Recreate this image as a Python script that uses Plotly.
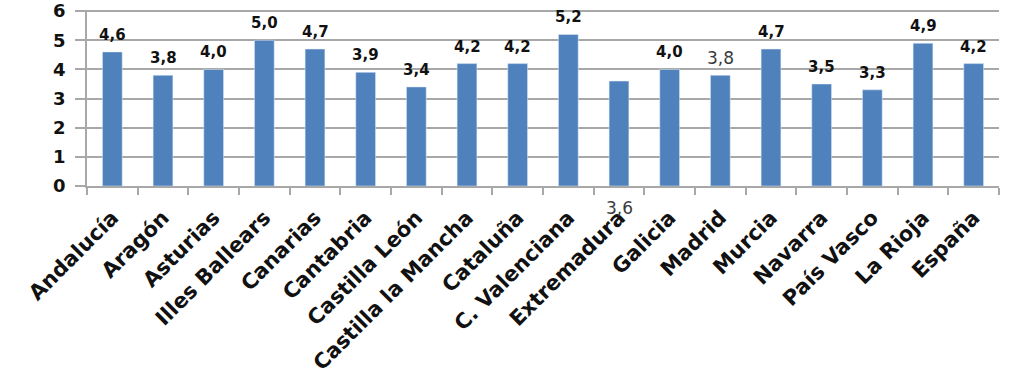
import plotly.graph_objects as go

categories = ["Andalucía", "Aragón", "Asturias", "Illes Ballears", "Canarias", "Cantabria",
              "Castilla León", "Castilla la Mancha", "Cataluña", "C. Valenciana", "Extremadura",
              "Galicia", "Madrid", "Murcia", "Navarra", "País Vasco", "La Rioja", "España"]
values = [4.6, 3.8, 4.0, 5.0, 4.7, 3.9, 3.4, 4.2, 4.2, 5.2, 3.6, 4.0, 3.8, 4.7, 3.5, 3.3, 4.9, 4.2]
y_ticks = [0, 1, 2, 3, 4, 5, 6]

BAR = "#4F81BD"
GRID = "#a8a8a8"
FONT = "DejaVu Sans"

fig = go.Figure(go.Bar(x=categories, y=values, marker_color=BAR, width=0.39,
                       hoverinfo="skip"))

annotations = []
for c, v in zip(categories, values):
    label = f"{v:.1f}".replace(".", ",")
    if c == "Extremadura":
        annotations.append(dict(x=c, y=0, text=label, showarrow=False, yanchor="top",
                                yshift=-10,
                                font=dict(family=FONT, size=17, color="#3a3a3a")))
    elif c == "Madrid":
        annotations.append(dict(x=c, y=v, text=label, showarrow=False, yanchor="bottom",
                                yshift=5, font=dict(family=FONT, size=17, color="#3a3a3a")))
    else:
        annotations.append(dict(x=c, y=v, text=f"<b>{label}</b>", showarrow=False,
                                yanchor="bottom", yshift=6,
                                font=dict(family=FONT, size=15, color="#111111")))

fig.update_layout(
    width=1024, height=384,
    margin=dict(l=87, r=25, t=10, b=198, autoexpand=False),
    plot_bgcolor="white", paper_bgcolor="white",
    showlegend=False,
    annotations=annotations,
    font=dict(family=FONT, color="#111111"),
)
fig.update_xaxes(
    type="category", tickangle=-45, tickson="boundaries", ticks="outside", ticklen=7,
    tickcolor=GRID, tickwidth=1.5, showline=True, linecolor=GRID, linewidth=2,
    tickfont=dict(family=FONT, size=21, color="#111111", weight="bold"),
    ticklabelstandoff=9,
    showgrid=False, automargin=False,
)
fig.update_yaxes(
    range=[0, 6.04], tickvals=y_ticks, ticks="outside", ticklen=10, tickcolor=GRID,
    tickwidth=2, showline=True, linecolor=GRID, linewidth=1.5,
    showgrid=True, gridcolor=GRID, gridwidth=2, zeroline=False, automargin=False,
    ticklabelstandoff=6, ticklabeloverflow="allow",
    tickfont=dict(family=FONT, size=18, color="#111111", weight="bold"),
)

fig.write_html("out.html", config={"displayModeBar": False},
               post_script="document.body.style.margin='0';")
